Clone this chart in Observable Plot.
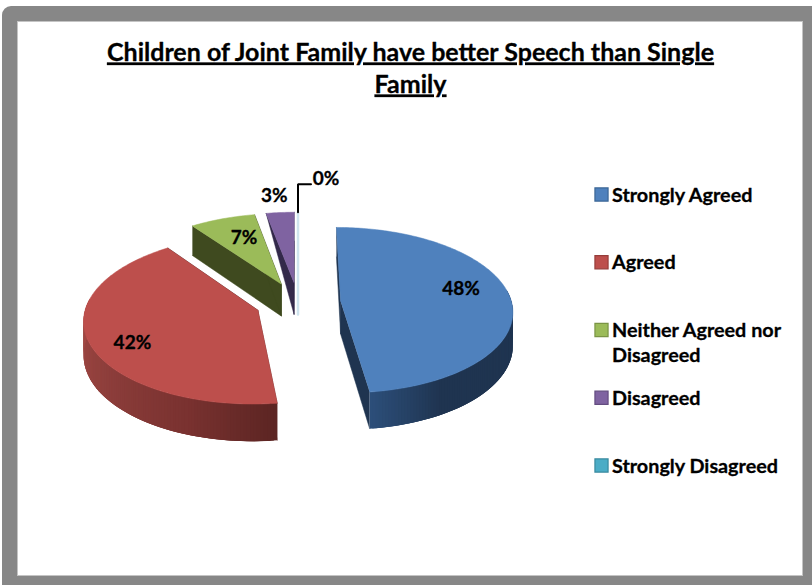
<!DOCTYPE html>
<html>
<head>
<meta charset="utf-8">
<script src="https://cdn.jsdelivr.net/npm/d3@7"></script>
<script src="https://cdn.jsdelivr.net/npm/@observablehq/plot@0.6"></script>
<style>
  html, body { margin: 0; padding: 0; background: #fff; }
  #sheet { position: relative; width: 812px; height: 585px; overflow: hidden; }
  #outer { position: absolute; left: 2px; top: 6px; right: -20px; bottom: -20px; background: #878787; border-radius: 9px; }
  #inner { position: absolute; left: 18px; top: 22px; width: 784px; height: 553px; background: #fff; box-shadow: 0 0 0 1px #c4c4c4; }
  #chart { position: absolute; left: 0; top: 0; }
  #chart svg { background: transparent; display: block; }
  .heading text { text-decoration: underline; text-decoration-thickness: 2px; text-underline-offset: 3px; }
</style>
</head>
<body>
<div id="sheet"><div id="outer"></div><div id="inner"></div><div id="chart"></div></div>
<script>
// Survey responses
const categories = ["Strongly Agreed", "Agreed", "Neither Agreed nor\nDisagreed", "Disagreed", "Strongly Disagreed"];
const percents = [48, 42, 7, 3, 0];
const faceColors = ["#4f81bd", "#bd4f4c", "#9bbb59", "#7f63a1", "#4bacc6"];
const swatchEdges = ["#3b6695", "#963d3a", "#7a9445", "#634c80", "#38899e"];
const titleLines = ["Children of Joint Family have better Speech than Single", "Family"];

// Tilted-disc model: the pie lies on a plane seen in perspective
const explode = 0.25, perspective = 0.108, thickness = 0.4;
const centerX = 297.5, centerY = 302, unitX = 171, unitY = 82;
const font = "Lato, Carlito, sans-serif";

const project = (u, v) => {
  const f = 1 / (1 - perspective * v);
  return {x: u * f, y: v * f, f};
};
const rad = (deg) => deg * Math.PI / 180;

// Angular extent of every slice, clockwise from twelve o'clock
let running = 0;
const slices = percents.map((value, i) => {
  const start = running * 3.6;
  running += value;
  const end = running * 3.6;
  const mid = (start + end) / 2;
  return {i, value, start, end, mid, ou: explode * Math.sin(rad(mid)), ov: -explode * Math.cos(rad(mid))};
});
const rimPoint = (s, deg, r = 1) => project(s.ou + r * Math.sin(rad(deg)), s.ov - r * Math.cos(rad(deg)));
const drop = (p, k = 1) => ({x: p.x, y: p.y + k * thickness * p.f});

// Shade of the outer wall as it turns around the disc
const wallShade = [
  d3.scaleLinear().domain([172.8, 150, 90]).range(["#2c4e79", "#1f3450", "#1f3450"]).clamp(true),
  d3.scaleLinear().domain([172.8, 200, 235, 275]).range(["#5c2523", "#7a3230", "#8f3f3c", "#a54a46"]).clamp(true),
  () => "#3f4a1f",
  () => "#33294a"
];
const radialWalls = ["#1f3450", "#5c2523", "#3f4a1f", "#33294a"];
// Share of the thickness shown at the rear corner of the leading radial wall
const rearDrop = [1, 1, 1, 0];

let polygonId = 0;
const addPolygon = (target, points, color) => {
  const z = polygonId++;
  for (const p of points) target.push({x: p.x, y: p.y, z, color});
};

// Paint from the back of the picture to the front; each slice gets its walls, then its face
const sliceOrder = [3, 2, 0, 1];
const sliceMarks = sliceOrder.flatMap((i) => {
  const s = slices[i];
  const faces = [], bands = [];
  const hub = project(s.ou, s.ov);
  const a = rimPoint(s, s.start), b = rimPoint(s, s.end);
  addPolygon(faces, [a, hub, drop(hub), drop(a, rearDrop[i])], radialWalls[i]);
  addPolygon(faces, [b, hub, drop(hub), drop(b)], radialWalls[i]);
  const arc = d3.range(s.start, s.end, 1).concat(s.end);
  // Bands overlap the one after them so no seams open up between neighbours
  const visible = arc.filter((d) => Math.cos(rad(d)) < 0.15);
  const ordered = i === 1 ? visible : visible.slice().reverse();
  ordered.forEach((d, k) => {
    const next = ordered[Math.min(k + 3, ordered.length - 1)];
    const p = rimPoint(s, d), q = rimPoint(s, next);
    addPolygon(bands, [p, q, drop(q), drop(p)], wallShade[i](d));
  });
  const top = [];
  addPolygon(top, [hub, ...arc.map((d) => rimPoint(s, d))], faceColors[i]);
  return [
    Plot.line(faces, {x: "x", y: "y", z: "z", fill: "color", stroke: "color", strokeWidth: 0.5}),
    Plot.line(bands, {x: "x", y: "y", z: "z", fill: "color", stroke: "none"}),
    Plot.line(top, {x: "x", y: "y", z: "z", fill: "color", stroke: "color", strokeWidth: 0.5})
  ];
});

// A slice of nothing still shows as a hairline between its neighbours
const empty = slices.filter((s) => s.value === 0).flatMap((s) => {
  const rim = rimPoint(s, s.start), hub = project(s.ou, s.ov);
  return [rim, hub, drop(hub)].map((p) => ({...p, z: s.i}));
});
const leaderFoot = rimPoint(slices[4], slices[4].start);
const leader = [
  leaderFoot,
  {x: leaderFoot.x, y: leaderFoot.y - 28 / unitY},
  {x: leaderFoot.x + 13 / unitX, y: leaderFoot.y - 28 / unitY}
];

const inkStroke = {stroke: "#000", strokeWidth: 0.3, fill: "#000", fontWeight: 700, fontFamily: font};

// Percentage labels sit along each slice's middle radius, then get a small nudge
const labelReach = [0.7, 0.75, 0.7, 1.25, 1.6];
const labelNudgeX = [2, 0, 5, -3, 28];
const labelNudgeY = [-9, 9, 1, -1, 3];
const labelMarks = slices.map((s) => Plot.text(
  [{...rimPoint(s, s.mid, labelReach[s.i]), text: `${s.value}%`}],
  {x: "x", y: "y", text: "text", dx: labelNudgeX[s.i], dy: labelNudgeY[s.i], fontSize: 19, ...inkStroke}
));

// Legend column
const legendTop = 194, legendPitch = 67.75, swatchLeft = 601, textLeft = 611.5;
const legendMarks = categories.flatMap((name, i) => [
  Plot.dot([name], {
    frameAnchor: "top-left", dx: swatchLeft, dy: legendTop + i * legendPitch,
    symbol: "square", r: 7.4, fill: faceColors[i], stroke: swatchEdges[i], strokeWidth: 1.2
  }),
  Plot.text([name], {
    frameAnchor: "top-left", dx: textLeft, dy: legendTop + i * legendPitch - 11, lineAnchor: "top",
    textAnchor: "start", lineHeight: 1.28, fontSize: 19.8, text: (d) => d, ...inkStroke
  })
]);

const titleMarks = titleLines.map((line, i) => Plot.text([line], {
  frameAnchor: "top", dx: 4, dy: 52 + i * 32, lineAnchor: "middle", text: (d) => d,
  fontSize: 25, className: "heading", ...inkStroke
}));

const chart = Plot.plot({
  width: 812,
  height: 585,
  margin: 0,
  style: {background: "transparent"},
  x: {axis: null, domain: [-centerX / unitX, (812 - centerX) / unitX], range: [0, 812]},
  y: {axis: null, domain: [-centerY / unitY, (585 - centerY) / unitY], range: [0, 585]},
  color: {type: "identity"},
  marks: [
    ...sliceMarks,
    Plot.line(empty, {x: "x", y: "y", z: "z", stroke: "#cfe4ee", strokeWidth: 2.5, strokeLinejoin: "miter"}),
    Plot.line(leader, {x: "x", y: "y", stroke: "#000", strokeWidth: 2, strokeLinejoin: "miter"}),
    ...labelMarks,
    ...legendMarks,
    ...titleMarks
  ]
});
document.getElementById("chart").append(chart);
</script>
</body>
</html>
